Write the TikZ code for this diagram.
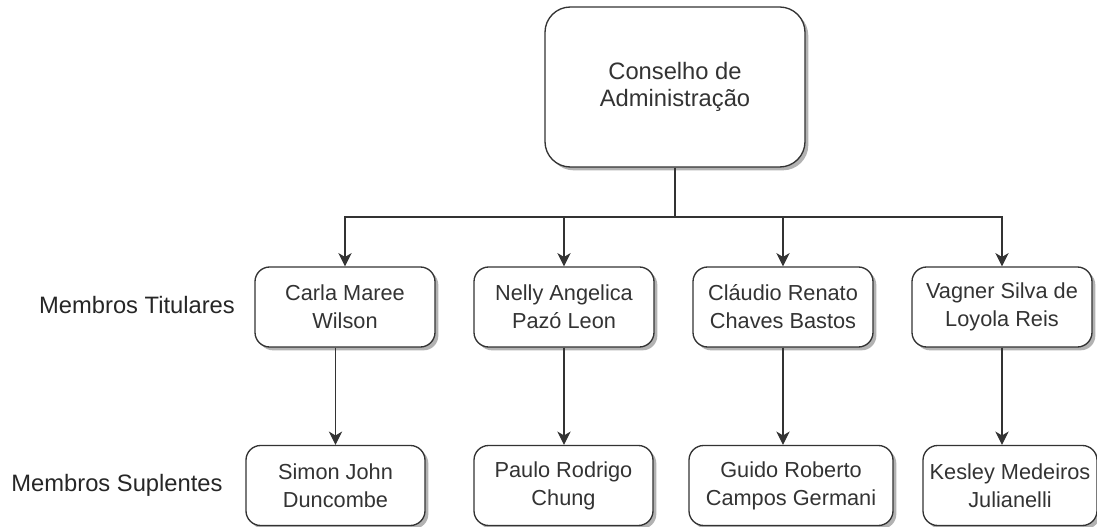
\documentclass[tikz,border=0pt]{standalone}
\usepackage{fontspec}
\setmainfont{Liberation Sans}
\usetikzlibrary{arrows.meta,positioning,shadows}

\tikzset{
  box/.style={draw=black!80,line width=1pt,fill=white,align=center,text=black!80,
    drop shadow={shadow xshift=2.5pt,shadow yshift=-2.5pt,fill=black!55,opacity=.55}},
  board/.style={box,rounded corners=19pt,minimum width=195pt,minimum height=120pt,
    font=\fontsize{17.8}{20.5}\selectfont},
  member/.style={box,rounded corners=11pt,minimum width=135pt,minimum height=60pt,
    font=\fontsize{16.3}{21}\selectfont},
  rowlabel/.style={text=black!85,font=\fontsize{17.8}{21}\selectfont},
  link/.style={draw=black!80,line width=0.9pt},
  arrow/.style={link,-{Stealth[length=10pt,width=10pt,inset=3pt]}}
}

\begin{document}
\begin{tikzpicture}[x=0.75pt,y=-0.75pt,node distance=164.25pt,inner sep=0pt]
\useasboundingbox (0,0) rectangle (1097,527);

\node[board] (cons) at (675,87) {Conselho de\\Administração};

% titulares
\node[member] (tit1) at (345,307) {Carla Maree\\Wilson};
\node[member] (tit2) [right of = tit1] {Nelly Angelica\\Pazó Leon};
\node[member] (tit3) [right of = tit2] {Cláudio Renato\\Chaves Bastos};
\node[member] (tit4) [right of = tit3] {Vagner Silva de\\Loyola Reis};

% suplentes
\node[member,minimum width=134.25pt] (sup1) at (335.5,485.5) {Simon John\\Duncombe};
\node[member,minimum width=134.25pt] (sup2) at (563.5,485.5) {Paulo Rodrigo\\Chung};
\node[member,minimum width=153pt] (sup3) at (791,485.5) {Guido Roberto\\Campos Germani};
\node[member,minimum width=130.5pt] (sup4) at (1010,485.5) {Kesley Medeiros\\Julianelli};

\node[rowlabel] (lbltit) at (137,305) {Membros Titulares};
\node[rowlabel] (lblsup) at (117,485) {Membros Suplentes};

\coordinate (split) at (cons.south |- 0,217);
\path[link] (cons.south) -- (split);
\foreach \t in {tit1,tit2,tit3,tit4}
  \path[arrow] (split) -| (\t.north);

\path[arrow] (sup1.north |- tit1.south) -- (sup1.north);
\path[arrow] (tit2.south) -- (tit2.south |- sup2.north);
\path[arrow] (tit3.south) -- (tit3.south |- sup3.north);
\path[arrow] (tit4.south) -- (tit4.south |- sup4.north);
\end{tikzpicture}
\end{document}
